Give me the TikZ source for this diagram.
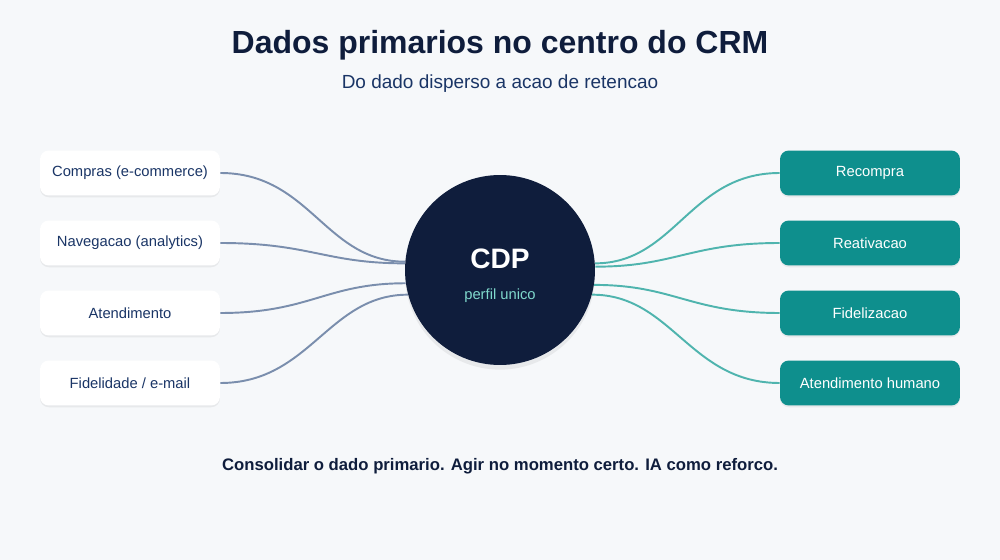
\documentclass[tikz,border=0pt]{standalone}
\usepackage{fontspec}
\setmainfont{Liberation Sans}
\usetikzlibrary{positioning, shadows}
\definecolor{bgcol}{HTML}{F6F8FA}
\definecolor{navy}{HTML}{0F1D3C}
\definecolor{teal}{HTML}{0E8F8D}
\definecolor{srcline}{HTML}{7A8EAD}
\definecolor{outline}{HTML}{4FB4AE}
\definecolor{mint}{HTML}{7FD8CC}
\definecolor{boxtxt}{HTML}{1A3566}
\tikzset{
    srcbox/.style={rectangle, rounded corners=5pt, fill=white, minimum width=3.6cm,
        minimum height=0.9cm, font=\fontsize{8.4pt}{10pt}\selectfont, text=boxtxt,
        drop shadow={shadow xshift=0pt, shadow yshift=-1pt, opacity=0.12}},
    actbox/.style={srcbox, fill=teal, text=white},
    srclink/.style={srcline, line width=1.1pt},
    actlink/.style={outline, line width=1.1pt}}
\begin{document}
\begin{tikzpicture}[x=0.02cm, y=-0.02cm]
    \fill[bgcol] (0,0) rectangle (1000,560);

    % Titles
    \node[font=\bfseries\fontsize{18.2pt}{21pt}\selectfont, text=navy] (title) at (500,45) {Dados primarios no centro do CRM};
    \node[font=\fontsize{10.8pt}{12pt}\selectfont, text=boxtxt] (sub) at (500,84) {Do dado disperso a acao de retencao};

    % Hub
    \node[circle, fill=navy, minimum size=3.8cm, drop shadow={shadow xshift=0pt, opacity=0.12}] (cdp) at (500,270) {};
    \node[font=\bfseries\fontsize{16pt}{18pt}\selectfont, text=white] (cdpname) at (500,259) {CDP};
    \node[font=\fontsize{8.4pt}{10pt}\selectfont, text=mint] (cdpsub) at (500,296) {perfil unico};

    % Sources
    \node[srcbox] (compras) at (130,173) {Compras (e-commerce)};
    \node[srcbox] (naveg) at (130,243) {Navegacao (analytics)};
    \node[srcbox] (atend) at (130,313) {Atendimento};
    \node[srcbox] (fidel) at (130,383) {Fidelidade / e-mail};

    % Actions
    \node[actbox] (recompra) at (870,173) {Recompra};
    \node[actbox] (reativ) at (870,243) {Reativacao};
    \node[actbox] (fideliz) at (870,313) {Fidelizacao};
    \node[actbox] (humano) at (870,383) {Atendimento humano};

    % Links
    \draw[srclink] (compras.east) .. controls +(90,0) and +(-80,0) .. (cdp.175);
    \draw[srclink] (naveg.east) .. controls +(90,0) and +(-80,0) .. (cdp.176);
    \draw[srclink] (atend.east) .. controls +(90,0) and +(-80,0) .. (cdp.188);
    \draw[srclink] (fidel.east) .. controls +(90,0) and +(-80,0) .. (cdp.195);
    \draw[actlink] (cdp.4) .. controls +(80,0) and +(-90,0) .. (recompra.west);
    \draw[actlink] (cdp.2) .. controls +(80,0) and +(-90,0) .. (reativ.west);
    \draw[actlink] (cdp.-9) .. controls +(80,0) and +(-90,0) .. (fideliz.west);
    \draw[actlink] (cdp.-15) .. controls +(80,0) and +(-90,0) .. (humano.west);

    % Footer
    \node[font=\bfseries\fontsize{9.5pt}{11pt}\selectfont, text=navy] (footer) at (500,466) {Consolidar o dado primario. Agir no momento certo. IA como reforco.};
\end{tikzpicture}
\end{document}
